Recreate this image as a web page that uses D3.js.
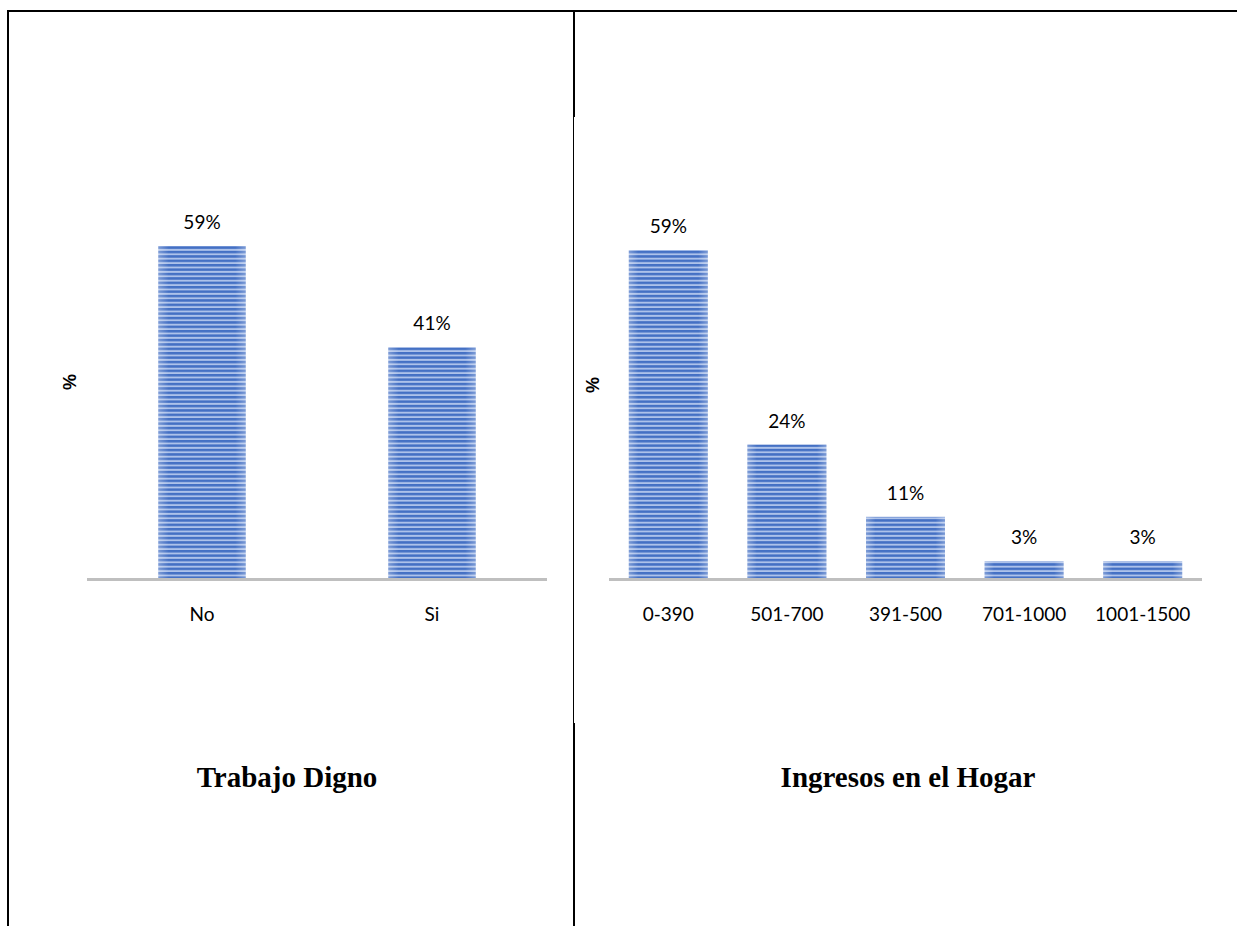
<!DOCTYPE html>
<html><head><meta charset="utf-8">
<script src="https://cdn.jsdelivr.net/npm/d3@7"></script>
<style>html,body{margin:0;padding:0;background:#fff;}</style>
</head><body>
<script>
const cats1 = ["No", "Si"];
const vals1 = [59, 41];
const title1 = "Trabajo Digno";
const cats2 = ["0-390", "501-700", "391-500", "701-1000", "1001-1500"];
const vals2 = [59, 24, 11, 3, 3];
const title2 = "Ingresos en el Hogar";
const yLabel = "%";

const W = 1237, H = 926;
const FONT = "Lato, 'Liberation Sans', Arial, sans-serif";
const svg = d3.select("body").append("svg").attr("width", W).attr("height", H);

const defs = svg.append("defs");
const pat = defs.append("pattern").attr("id", "stripes").attr("patternUnits", "userSpaceOnUse")
  .attr("width", 8).attr("height", 4.4);
pat.append("rect").attr("width", 8).attr("height", 4.4).attr("fill", "#adc2ea");
pat.append("rect").attr("y", 0).attr("width", 8).attr("height", 2.5).attr("fill", "#4470c4");
const grad = defs.append("linearGradient").attr("id", "edge").attr("x1", 0).attr("x2", 1);
grad.append("stop").attr("offset", 0).attr("stop-color", "#fff").attr("stop-opacity", 0.3);
grad.append("stop").attr("offset", 0.12).attr("stop-color", "#fff").attr("stop-opacity", 0);
grad.append("stop").attr("offset", 0.88).attr("stop-color", "#fff").attr("stop-opacity", 0);
grad.append("stop").attr("offset", 1).attr("stop-color", "#fff").attr("stop-opacity", 0.3);

// frame
svg.append("line").attr("x1", 7).attr("x2", 1237).attr("y1", 11).attr("y2", 11).attr("stroke", "#000").attr("stroke-width", 2);
svg.append("line").attr("x1", 8).attr("x2", 8).attr("y1", 10).attr("y2", 926).attr("stroke", "#000").attr("stroke-width", 2);
svg.append("line").attr("x1", 574).attr("x2", 574).attr("y1", 10).attr("y2", 117).attr("stroke", "#000").attr("stroke-width", 2);
svg.append("line").attr("x1", 573.5).attr("x2", 573.5).attr("y1", 117).attr("y2", 723).attr("stroke", "#000").attr("stroke-width", 1);
svg.append("line").attr("x1", 574).attr("x2", 574).attr("y1", 723).attr("y2", 926).attr("stroke", "#000").attr("stroke-width", 2);

function drawChart(cats, vals, cfg) {
  const g = svg.append("g");
  const x = d3.scaleBand().domain(cats).range([cfg.x0, cfg.x1]).paddingInner(cfg.pad).paddingOuter(cfg.pad / 2);
  const y = d3.scaleLinear().domain([0, 59]).range([cfg.base, cfg.top]);
  const data = cats.map((c, i) => ({c, v: vals[i]}));
  g.selectAll("rect.bar").data(data).join("rect").attr("class", "bar")
    .attr("x", d => x(d.c)).attr("width", x.bandwidth())
    .attr("y", d => y(d.v)).attr("height", d => y(0) - y(d.v))
    .attr("fill", "url(#stripes)");
  g.selectAll("rect.edge").data(data).join("rect").attr("class", "edge")
    .attr("x", d => x(d.c)).attr("width", x.bandwidth())
    .attr("y", d => y(d.v)).attr("height", d => y(0) - y(d.v))
    .attr("fill", "url(#edge)");
  g.selectAll("text.val").data(data).join("text").attr("class", "val")
    .attr("x", d => x(d.c) + x.bandwidth() / 2).attr("y", d => y(d.v) - 17)
    .attr("text-anchor", "middle").attr("font-family", FONT)
    .attr("font-size", 19).attr("fill", "#000").text(d => d.v + "%");
  const ax = g.append("g").attr("transform", `translate(0,${cfg.base + 1.5})`)
    .call(d3.axisBottom(x).tickSize(0).tickPadding(28));
  ax.select(".domain").attr("stroke", "#bfbfbf").attr("stroke-width", 3)
    .attr("d", `M${cfg.x0},0H${cfg.x1}`);
  ax.selectAll("text").attr("font-family", FONT).attr("font-size", 19).attr("fill", "#000");
  g.append("text").attr("transform", `translate(${cfg.yx},${cfg.yy}) rotate(-90)`)
    .attr("text-anchor", "middle").attr("font-family", "'Liberation Sans', Arial, sans-serif")
    .attr("font-weight", "bold").attr("font-size", 18).text(yLabel);
  g.append("text").attr("x", cfg.tx).attr("y", 787).attr("text-anchor", "middle")
    .attr("font-family", "'Liberation Serif', 'Times New Roman', serif").attr("font-weight", "bold")
    .attr("font-size", 29).text(cfg.title);
}

drawChart(cats1, vals1, {x0: 87, x1: 547, pad: 0.62, base: 578, top: 246, yx: 76, yy: 382, tx: 287, title: title1});
drawChart(cats2, vals2, {x0: 609, x1: 1202, pad: 0.334, base: 578, top: 250, yx: 599, yy: 385, tx: 908, title: title2});
</script>
</body></html>
